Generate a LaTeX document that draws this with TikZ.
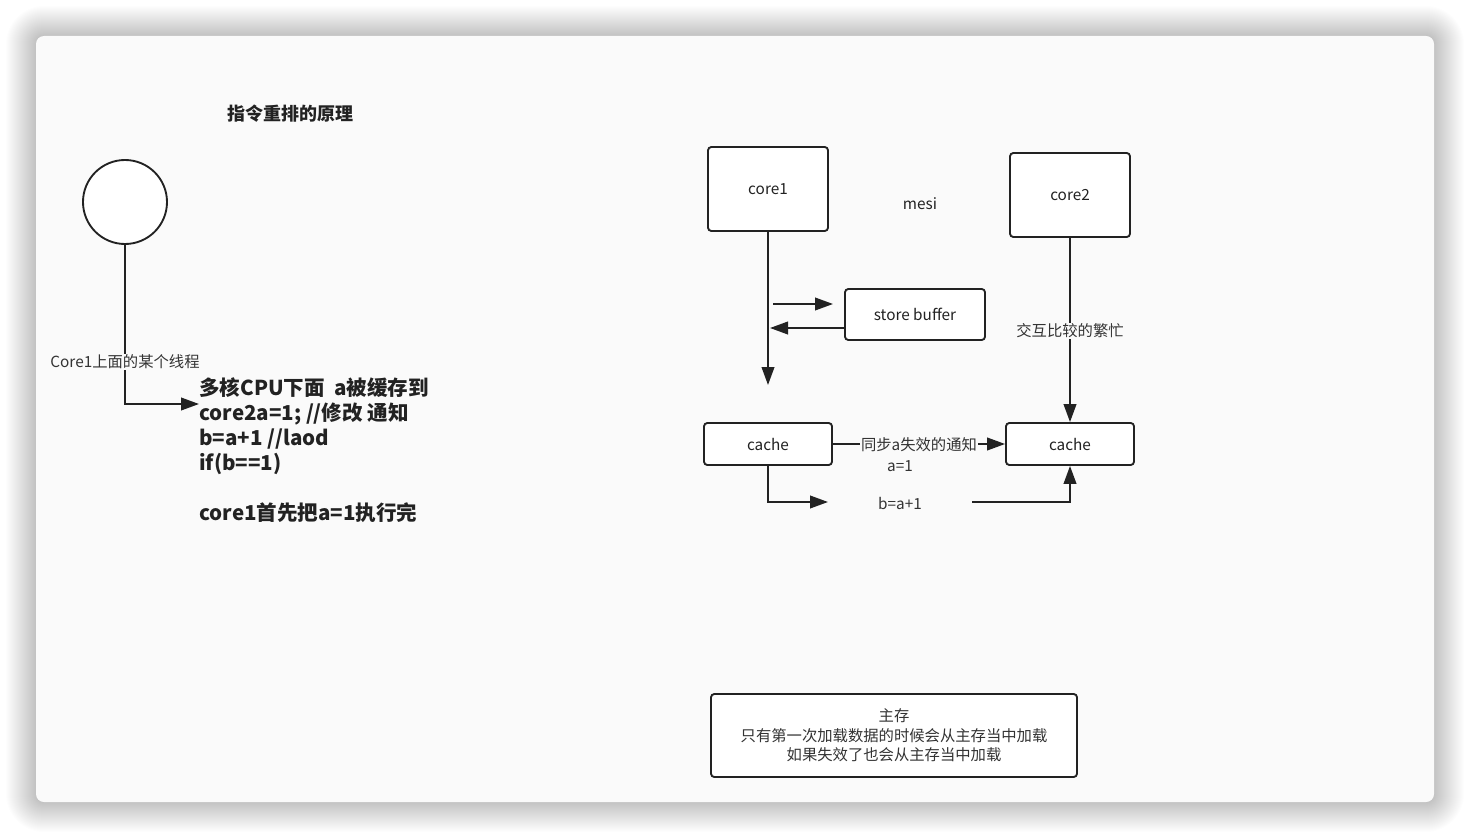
\documentclass[tikz,border=0pt]{standalone}
\usepackage{fontspec}
\setmainfont{Noto Sans CJK SC}
\usetikzlibrary{arrows.meta}
\definecolor{cardbg}{HTML}{FAFAFA}
\definecolor{ink}{HTML}{222222}
\definecolor{lbl}{HTML}{333333}
\tikzset{
 box/.style={draw=ink, line width=1.4pt, rounded corners=2.5pt, fill=white, text=ink, font=\fontsize{11.5}{14}\selectfont, inner sep=0pt},
 arr/.style={draw=ink, line width=1.4pt, -{Triangle[length=13.5pt,width=9.5pt]}},
 lab/.style={text=lbl, font=\fontsize{11.5}{14}\selectfont, inner sep=1pt},
 labbg/.style={lab, fill=cardbg},
}
\begin{document}
\begin{tikzpicture}[x=0.75pt,y=-0.75pt]
\useasboundingbox (0,0) rectangle (1470,838);
\fill[white] (0,0) rectangle (1470,838);
\foreach \i [evaluate=\i as \r using 6+0.75*\i] in {1,...,30} {
  \fill[black, opacity=0.008, rounded corners=\r pt] (36-\i,36-\i) rectangle (1434+\i,802+\i);
}
\fill[cardbg, rounded corners=6pt] (36,36) rectangle (1434,802);

% left part
\node[font=\bfseries\fontsize{13.5}{16}\selectfont, text=ink] (title) at (290,114) {指令重排的原理};
\node[circle, draw=ink, line width=1.4pt, fill=white, minimum size=63pt, inner sep=0pt] (thread) at (125,202) {};
\node[anchor=north west, align=left, inner sep=0pt, font=\bfseries\fontsize{15.4}{18.75}\selectfont, text=ink] (code) at (199,377)
  {多核CPU下面\ \ a被缓存到\\core2a=1; //修改 通知\\b=a+1 //laod\\if(b==1)\\[18.75pt]core1首先把a=1执行完};
\coordinate (threadtip) at (199,404);
\draw[arr] (thread.south) |- (threadtip);
\node[labbg] (threadlbl) at (125,362) {Core1上面的某个线程};

% right part
\node[box, minimum width=90pt, minimum height=63pt] (core1) at (768,189) {core1};
\node[box, minimum width=90pt, minimum height=63pt] (core2) at (1070,195) {core2};
\node[lab, text=ink] (mesi) at (920,204) {mesi};
\node[box, minimum width=105pt, minimum height=38.25pt] (sb) at (915,314.5) {store buffer};
\node[box, minimum width=96pt, minimum height=31.5pt] (cache1) at (768,444) {cache};
\node[box, minimum width=96pt, minimum height=31.5pt] (cache2) at (1070,444) {cache};
\node[box, minimum width=274.5pt, minimum height=62.25pt, align=center, font=\fontsize{11.5}{14.6}\selectfont, text=lbl] (mem) at (894,735.5)
  {主存\\只有第一次加载数据的时候会从主存当中加载\\如果失效了也会从主存当中加载};

\coordinate (c1end) at (768,385);
\draw[arr] (core1.south) -- (c1end);
\coordinate (sbfrom) at (773,304);
\coordinate (sbto) at (833,304);
\draw[arr] (sbfrom) -- (sbto);
\coordinate (sbback) at (770,328);
\draw[arr] (sb.west |- sbback) -- (sbback);

\draw[arr] (core2.south) -- (cache2.north);
\node[labbg] (busy) at (1070,331) {交互比较的繁忙};

\draw[arr] (cache1.east) -- (cache2.west);
\node[labbg] (sync) at (919,445) {同步a失效的通知};
\node[lab] (aone) at (900,466) {a=1};

\coordinate (b1) at (828,502);
\draw[arr] (cache1.south) |- (b1);
\node[lab] (bexpr) at (900,503) {b=a+1};
\coordinate (b2) at (972,502);
\draw[arr] (b2) -| (cache2.south);
\end{tikzpicture}
\end{document}
